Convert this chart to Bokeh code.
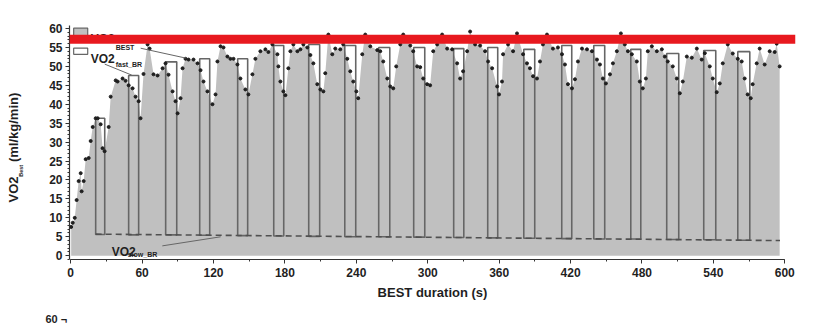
from bokeh.plotting import figure
from bokeh.models import Range1d, Span, Label, SingleIntervalTicker, Title
from bokeh.embed import file_html
from bokeh.resources import INLINE

# ---- data ----
t_vals = [0.4, 1.7, 3.4, 5.0, 6.7, 8.4, 9.2, 10.9, 12.6, 15.1, 16.8, 18.5, 21.0, 22.7, 25.2, 26.8, 28.5,
          31.9, 33.6, 37.8, 39.4, 43.6, 46.1, 48.7, 52.0, 54.5, 57.1, 58.7, 61.2, 64.6, 66.3, 69.6, 73.0,
          77.2, 79.7, 82.2, 85.6, 88.1, 89.8, 92.3, 94.0, 96.5, 99.0, 103.2, 106.6, 109.1, 111.6, 114.9,
          119.1, 121.7, 123.3, 125.9, 128.4, 131.7, 134.2, 136.8, 140.1, 142.6, 146.8, 149.3, 152.7, 155.2,
          159.4, 163.6, 166.1, 169.5, 173.7, 174.5, 176.2, 178.7, 180.4, 182.9, 184.6, 187.1, 190.5, 193.0,
          195.5, 198.8, 201.4, 203.9, 207.2, 209.8, 212.3, 213.9, 216.5, 219.8, 222.3, 226.5, 229.0, 232.4,
          234.9, 237.4, 240.0, 241.6, 245.0, 247.5, 251.7, 257.6, 260.1, 262.6, 266.0, 268.5, 271.0, 273.5,
          276.9, 279.4, 285.3, 287.8, 291.1, 293.7, 296.2, 299.5, 302.0, 304.6, 307.9, 312.1, 316.3, 320.5,
          324.7, 327.2, 329.7, 333.1, 335.6, 339.8, 344.0, 348.2, 350.7, 354.1, 358.3, 359.9, 362.4, 363.3,
          367.5, 371.7, 375.0, 380.1, 383.4, 385.9, 388.5, 391.8, 394.3, 396.8, 400.2, 405.2, 409.4, 412.8,
          415.3, 417.8, 421.2, 423.7, 426.2, 429.6, 433.8, 438.0, 442.2, 444.7, 447.2, 449.7, 453.1, 455.6,
          458.9, 462.3, 465.6, 468.2, 471.5, 475.7, 478.2, 480.7, 483.3, 484.9, 488.3, 492.5, 496.7, 499.2,
          501.7, 505.9, 509.3, 511.8, 514.3, 517.7, 521.9, 526.1, 530.2, 532.8, 537.0, 539.5, 542.8, 545.4,
          547.9, 552.1, 556.3, 560.5, 563.8, 566.3, 568.8, 571.4, 573.0, 576.4, 578.9, 583.1, 587.3, 591.5,
          593.2, 595.7]
vo2_best = [7.6, 8.7, 10.0, 14.7, 19.7, 21.8, 17.0, 19.7, 25.5, 25.8, 30.3, 34.0, 36.3, 36.3, 34.7, 28.4, 27.6,
            34.0, 42.0, 46.3, 46.0, 46.8, 46.2, 45.0, 44.2, 42.0, 40.8, 36.3, 48.0, 55.8, 54.7, 47.9, 47.6,
            49.5, 50.8, 47.8, 43.4, 40.8, 37.6, 41.6, 49.5, 52.0, 51.8, 51.8, 50.8, 49.0, 46.0, 43.4,
            40.0, 42.6, 51.3, 55.3, 55.0, 52.6, 52.0, 52.0, 50.5, 46.8, 43.9, 42.6, 47.9, 52.0,
            54.0, 54.5, 53.8, 55.8, 53.2, 50.0, 46.0, 43.4, 42.4, 49.5, 54.0, 55.8, 54.0, 54.5,
            55.8, 55.0, 53.0, 50.8, 45.3, 43.9, 43.4, 48.2, 58.4, 53.2, 54.7, 54.5, 55.8, 52.0,
            48.7, 46.0, 43.4, 41.6, 53.2, 58.4, 55.3, 54.3, 54.0, 51.3, 46.8, 44.7, 44.2, 50.0,
            55.8, 58.4, 55.5, 54.0, 50.0, 49.8, 46.8, 45.3, 45.0, 54.0, 55.8, 58.4, 54.7, 54.5,
            50.8, 46.8, 48.7, 54.0, 59.2, 55.8, 55.5, 54.0, 51.3, 49.5, 44.7, 42.6, 46.0, 53.2,
            55.8, 54.0, 58.7, 53.2, 50.8, 49.5, 47.4, 46.8, 51.3, 55.8, 58.4, 54.7, 55.0, 53.2,
            50.5, 45.3, 44.2, 46.6, 51.3, 54.7, 54.5, 54.0, 51.8, 50.5, 46.8, 45.5, 47.9, 50.8,
            54.0, 58.7, 55.8, 54.0, 53.2, 51.3, 46.0, 44.2, 46.8, 54.0, 55.3, 54.0, 54.5, 52.6,
            51.3, 50.0, 46.8, 42.9, 46.0, 52.6, 52.3, 54.7, 51.8, 53.5, 50.0, 46.8, 43.2, 45.5,
            50.8, 55.8, 53.4, 52.0, 51.3, 46.8, 42.6, 41.6, 45.3, 50.8, 54.7, 50.5, 54.0, 53.8,
            56.0, 50.0]

# VO2 fast_BR bars (start, end, top, bottom)
fast_start = [21.0, 48.7, 79.8, 108.4, 140.3, 170.6, 200.0, 230.3, 258.8, 288.2, 321.8, 350.4, 380.7,
              412.6, 439.5, 470.6, 500.8, 531.9, 560.5]
fast_end = [28.6, 57.1, 89.1, 116.8, 148.7, 179.0, 209.2, 239.5, 268.1, 297.5, 330.3, 358.8, 389.9,
            421.0, 448.7, 479.0, 510.9, 542.0, 570.6]
fast_top = [36.3, 47.6, 51.2, 52.0, 52.0, 55.5, 55.8, 55.5, 55.0, 55.0, 54.7, 55.0, 54.5,
            55.5, 55.5, 54.5, 53.4, 54.2, 53.9]
fast_bottom = [5.6, 5.5, 5.5, 5.4, 5.3, 5.2, 5.1, 5.0, 5.0, 4.9, 4.8, 4.7, 4.6,
               4.5, 4.4, 4.4, 4.3, 4.2, 4.1]

# VO2 slow_BR baseline
slow_t = [21.0, 596.0]
slow_v = [5.7, 4.0]

peak_line = 57.2

x_ticks_interval = 60
y_ticks_interval = 5

FONT = "Liberation Sans"
INK = "#1f1f1f"
NBSP = "\u00a0"

p = figure(width=829, height=335, x_range=Range1d(-1, 609), y_range=Range1d(-1, 60.8),
           output_backend="svg", toolbar_location=None,
           min_border_left=69, min_border_right=34, min_border_top=25, min_border_bottom=76)
p.outline_line_color = None
p.grid.visible = False

# axes
p.xaxis.ticker = SingleIntervalTicker(interval=x_ticks_interval, num_minor_ticks=2)
p.xaxis.bounds = (0, 600)
p.yaxis.ticker = SingleIntervalTicker(interval=y_ticks_interval, num_minor_ticks=5)
for ax in (p.xaxis[0], p.yaxis[0]):
    ax.axis_line_color = "#333333"
    ax.axis_line_width = 1.2
    ax.major_tick_line_color = "#333333"
    ax.minor_tick_line_color = "#333333"
    ax.major_tick_out = 4
    ax.major_tick_in = 0
    ax.minor_tick_out = 2
    ax.minor_tick_in = 0
    ax.major_label_text_font = FONT
    ax.major_label_text_font_style = "bold"
    ax.major_label_text_font_size = "12px"
    ax.major_label_text_color = INK
    ax.axis_label_text_font = FONT
    ax.axis_label_text_font_style = "bold"
    ax.axis_label_text_color = INK
p.yaxis.major_label_standoff = 3
p.xaxis.major_label_standoff = 4
p.xaxis.axis_label = "BEST duration (s)"
p.xaxis.axis_label_text_font_size = "13px"
p.xaxis.axis_label_standoff = 5
# subscript of the y title, padded so that it sits below the frame centre
p.yaxis.axis_label = "Best" + NBSP * 37
p.yaxis.axis_label_text_font_size = "5.5px"
p.yaxis.axis_label_standoff = 22

# gray area + bars + slow line + dots
p.varea(x=t_vals, y1=0, y2=vo2_best, fill_color="#c0c0c0")
p.quad(left=fast_start, right=fast_end, bottom=fast_bottom, top=fast_top,
       fill_color=None, line_color="#666666", line_width=1.6)
p.line(slow_t, slow_v, line_dash="6 4", line_color="#505050", line_width=1.6)
p.scatter(t_vals, vo2_best, size=3, color=INK)

# legend keys
p.quad(left=[2.5], right=[14.3], bottom=[57.9], top=[60.1], fill_color="#c0c0c0",
       line_color="#666666", line_width=1.2)
p.quad(left=[2.5], right=[14.3], bottom=[53.2], top=[54.8], fill_color="white",
       line_color="#666666", line_width=1.2)
# leader lines
p.segment(x0=[58.8, 28.6, 77.0], y0=[54.8, 50.6, 2.6], x1=[96.6, 51.3, 126.0], y1=[52.2, 47.7, 5.0],
          line_color="#666666", line_width=1)


def lab(x, y, text, size):
    p.add_layout(Label(x=x, y=y, text=text, text_font=FONT, text_font_style="bold",
                       text_font_size=size, text_color=INK,
                       text_align="left", text_baseline="alphabetic"))


lab(16.8, 57.2, "VO2", "12px")
lab(37.8, 55.1, "BEST", "7px")
lab(16.8, 51.9, "VO2", "12px")
lab(37.8, 50.6, "fast_BR", "7px")
lab(34.5, 1.05, "VO2", "12px")
lab(47.9, 0.26, "slow_BR", "7px")


def side_title(text, size, offset, standoff, place):
    t = Title(text=text, align="left", offset=offset, standoff=standoff,
              text_font=FONT, text_font_style="bold", text_font_size=size, text_color=INK)
    p.add_layout(t, place)


# y axis title main part
side_title("VO2" + NBSP * 4 + "(ml/kg/min)", "13px", 57, -11, "left")
# top of the next panel (cut off)
side_title("60 ¬", "11px", -24, 16, "below")

# red horizontal marker
p.add_layout(Span(location=peak_line, dimension="width", line_color="#e8191f", line_width=9))

open("out.html", "w").write(file_html(p, INLINE))
